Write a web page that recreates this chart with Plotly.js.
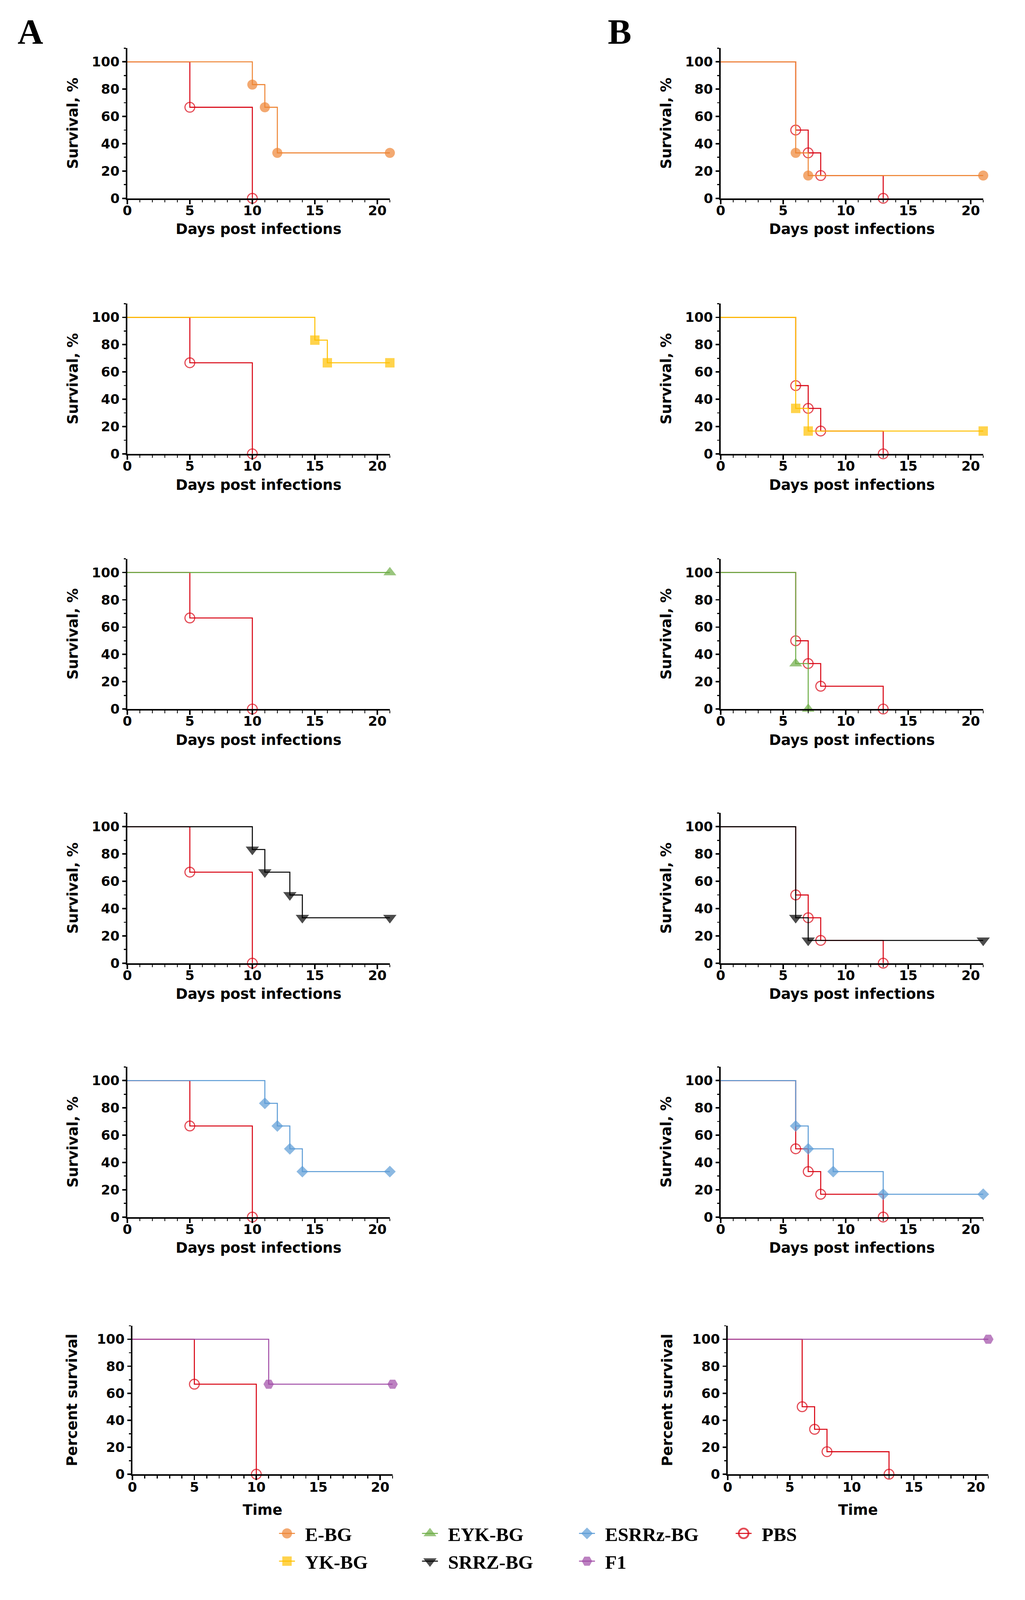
<!DOCTYPE html>
<html>
<head>
<meta charset="utf-8">
<script src="https://cdn.plot.ly/plotly-3.0.1.min.js"></script>
<style>
  html, body { margin: 0; padding: 0; background: #ffffff; overflow: hidden; }
</style>
</head>
<body>
<div id="chart"></div>
<script>
// ---------------- DATA (Kaplan-Meier steps) ----------------
const PBS_A_days = [0, 5, 10];
const PBS_A_surv = [100, 66.7, 0];
const PBS_B_days = [0, 6, 7, 8, 13];
const PBS_B_surv = [100, 50, 33.3, 16.7, 0];

const EBG_A_days = [0, 10, 11, 12, 21];
const EBG_A_surv = [100, 83.3, 66.7, 33.3, 33.3];
const EBG_B_days = [0, 6, 7, 21];
const EBG_B_surv = [100, 33.3, 16.7, 16.7];

const YKBG_A_days = [0, 15, 16, 21];
const YKBG_A_surv = [100, 83.3, 66.7, 66.7];
const YKBG_B_days = [0, 6, 7, 21];
const YKBG_B_surv = [100, 33.3, 16.7, 16.7];

const EYKBG_A_days = [0, 21];
const EYKBG_A_surv = [100, 100];
const EYKBG_B_days = [0, 6, 7];
const EYKBG_B_surv = [100, 33.3, 0];

const SRRZBG_A_days = [0, 10, 11, 13, 14, 21];
const SRRZBG_A_surv = [100, 83.3, 66.7, 50, 33.3, 33.3];
const SRRZBG_B_days = [0, 6, 7, 21];
const SRRZBG_B_surv = [100, 33.3, 16.7, 16.7];

const ESRRZBG_A_days = [0, 11, 12, 13, 14, 21];
const ESRRZBG_A_surv = [100, 83.3, 66.7, 50, 33.3, 33.3];
const ESRRZBG_B_days = [0, 6, 7, 9, 13, 21];
const ESRRZBG_B_surv = [100, 66.7, 50, 33.3, 16.7, 16.7];

const F1_A_days = [0, 11, 21];
const F1_A_surv = [100, 66.7, 66.7];
const F1_B_days = [0, 21];
const F1_B_surv = [100, 100];

const groupNames = ['E-BG', 'YK-BG', 'EYK-BG', 'SRRZ-BG', 'ESRRz-BG', 'F1'];
const controlName = 'PBS';
const xTickVals = [0, 5, 10, 15, 20];
const yTickVals = [0, 20, 40, 60, 80, 100];
const panelLetters = ['A', 'B'];
const yTitleMain = 'Survival, %';
const xTitleMain = 'Days post infections';
const yTitleLast = 'Percent survival';
const xTitleLast = 'Time';

// panels: [row][col]
const panelData = [
  [[EBG_A_days, EBG_A_surv, PBS_A_days, PBS_A_surv], [EBG_B_days, EBG_B_surv, PBS_B_days, PBS_B_surv]],
  [[YKBG_A_days, YKBG_A_surv, PBS_A_days, PBS_A_surv], [YKBG_B_days, YKBG_B_surv, PBS_B_days, PBS_B_surv]],
  [[EYKBG_A_days, EYKBG_A_surv, PBS_A_days, PBS_A_surv], [EYKBG_B_days, EYKBG_B_surv, PBS_B_days, PBS_B_surv]],
  [[SRRZBG_A_days, SRRZBG_A_surv, PBS_A_days, PBS_A_surv], [SRRZBG_B_days, SRRZBG_B_surv, PBS_B_days, PBS_B_surv]],
  [[ESRRZBG_A_days, ESRRZBG_A_surv, PBS_A_days, PBS_A_surv], [ESRRZBG_B_days, ESRRZBG_B_surv, PBS_B_days, PBS_B_surv]],
  [[F1_A_days, F1_A_surv, PBS_A_days, PBS_A_surv], [F1_B_days, F1_B_surv, PBS_B_days, PBS_B_surv]]
];

// ---------------- STYLE ----------------
// reference frame is 2624 x 4784; the page fits it into the real viewport
const REF_W = 2624, REF_H = 4784;
const W = window.innerWidth || REF_W, H = window.innerHeight || REF_H;
const sx = W / REF_W, sy = H / REF_H;
const fs = Math.min(1, Math.sqrt(sx * sy));
const chartEl = document.getElementById('chart');
chartEl.style.width = W + 'px';
chartEl.style.height = H + 'px';

const STY = {
  'E-BG':     {color: '#EE8535', symbol: 'circle',        size: 28, legend: 'legend'},
  'EYK-BG':   {color: '#6DAD46', symbol: 'triangle-up',   size: 31, legend: 'legend2'},
  'ESRRz-BG': {color: '#5B9BD5', symbol: 'diamond',       size: 25, legend: 'legend3'},
  'PBS':      {color: '#D8000F', symbol: 'circle-open',   size: 27, legend: 'legend4'},
  'YK-BG':    {color: '#FFC000', symbol: 'square',        size: 26, legend: 'legend5'},
  'SRRZ-BG':  {color: '#000000', symbol: 'triangle-down', size: 32, legend: 'legend6'},
  'F1':       {color: '#A04BA6', symbol: 'hexagon2',      size: 29, legend: 'legend7'}
};
const colX = [
  [[326, 998], [1845, 2517]],
  [[326, 998], [1845, 2517]],
  [[326, 998], [1845, 2517]],
  [[326, 998], [1845, 2517]],
  [[326, 998], [1845, 2517]],
  [[339, 1005], [1863, 2530]]
];
const rowY0 = [593, 1357, 2120, 2880, 3639, 4408];
const rowH = [449, 449, 449, 449, 449, 444];

const axisFont = {family: 'DejaVu Sans, Arial, sans-serif', size: 37 * fs, color: '#000', weight: 'bold'};
const titleFont = {family: 'DejaVu Sans, Arial, sans-serif', size: 40 * fs, color: '#000', weight: 'bold'};

const legendOwner = {};
panelData.forEach((row, r) => row.forEach((p, c) => {
  const g = groupNames[r];
  if (!legendOwner[g] || p[0].length > legendOwner[g].n) legendOwner[g] = {r, c, n: p[0].length};
}));
legendOwner[controlName] = {r: 0, c: 0};

const traces = [];
const layout = {
  width: W, height: H,
  margin: {l: 0, r: 0, t: 0, b: 0},
  paper_bgcolor: '#fff', plot_bgcolor: 'rgba(0,0,0,0)',
  showlegend: true,
  annotations: [],
  font: {family: 'DejaVu Sans, Arial, sans-serif', color: '#000'}
};

function mk(name, days, surv, axIdx, showLeg) {
  const s = STY[name];
  return {
    type: 'scatter', mode: 'lines+markers', name: name,
    x: days, y: surv,
    xaxis: 'x' + axIdx, yaxis: 'y' + axIdx,
    line: {shape: 'hv', color: s.color, width: 2.8 * fs},
    marker: {
      symbol: s.symbol, color: s.color,
      size: days.map((d, i) => i === 0 ? 0 : s.size * fs),
      line: {color: s.color, width: name === controlName ? 3.2 * fs : 0}
    },
    cliponaxis: false,
    showlegend: showLeg, legend: s.legend,
    hoverinfo: 'x+y+name'
  };
}

let idx = 0;
panelData.forEach((row, r) => row.forEach((p, c) => {
  idx++;
  const g = groupNames[r];
  const [gx, gy, px, py] = p;
  traces.push(mk(controlName, px, py, idx, legendOwner[controlName].r === r && legendOwner[controlName].c === c));
  traces.push(mk(g, gx, gy, idx, legendOwner[g].r === r && legendOwner[g].c === c));

  const [x0, x21] = colX[r][c];
  const y0 = rowY0[r], yTop = y0 - rowH[r];
  const last = r === panelData.length - 1;
  layout['xaxis' + idx] = {
    domain: [x0 / REF_W, x21 / REF_W], anchor: 'y' + idx,
    range: [0, 21], tickvals: xTickVals, ticktext: xTickVals.map(String),
    showline: true, linewidth: 4.5 * fs, linecolor: '#000',
    ticks: 'outside', ticklen: 12 * fs, tickwidth: 4 * fs, tickcolor: '#000',
    minor: {tickvals: Array.from({length: 22}, (_, k) => k), ticks: 'outside', ticklen: 7 * fs, tickwidth: 3 * fs, tickcolor: '#000'},
    showgrid: false, zeroline: false, fixedrange: true,
    tickfont: axisFont, ticklabelstandoff: last ? -11 : -13,
    title: {text: last ? xTitleLast : xTitleMain, font: titleFont, standoff: last ? 27 : 16.5},
    automargin: false
  };
  layout['yaxis' + idx] = {
    domain: [1 - y0 / REF_H, 1 - yTop / REF_H], anchor: 'x' + idx,
    range: [0, 110], tickvals: yTickVals, ticktext: yTickVals.map(String),
    showline: true, linewidth: 4 * fs, linecolor: '#000',
    ticks: 'outside', ticklen: 10 * fs, tickwidth: 4 * fs, tickcolor: '#000',
    minor: {tickvals: [10, 30, 50, 70, 90, 110], ticks: 'outside', ticklen: 6 * fs, tickwidth: 3 * fs, tickcolor: '#000'},
    showgrid: false, zeroline: false, fixedrange: true,
    tickfont: axisFont,
    title: {text: last ? yTitleLast : yTitleMain, font: titleFont, standoff: last ? 40 : 25},
    automargin: false
  };
}));

const letterFont = {family: 'Liberation Serif, Times New Roman, serif', size: 98 * fs, color: '#000', weight: 'bold'};
layout.annotations.push(
  {text: panelLetters[0], xref: 'paper', yref: 'paper', x: 77 / REF_W, y: 1 - 95 / REF_H,
   xanchor: 'center', yanchor: 'middle', showarrow: false, font: letterFont},
  {text: panelLetters[1], xref: 'paper', yref: 'paper', x: 1586 / REF_W, y: 1 - 95 / REF_H,
   xanchor: 'center', yanchor: 'middle', showarrow: false, font: letterFont}
);

// legends: one per entry, 2 rows x 4 columns; positions = where the label text starts
const legFont = {family: 'Liberation Serif, Times New Roman, serif', size: 53 * fs, color: '#000', weight: 'bold'};
const LEG_ITEMW = 60;
const legendTextPos = {
  'legend':  [784, 4585], 'legend2': [1150, 4585], 'legend3': [1552, 4585], 'legend4': [1953, 4585],
  'legend5': [784, 4668], 'legend6': [1150, 4668], 'legend7': [1552, 4668]
};
Object.keys(legendTextPos).forEach(k => {
  const [tx, ty] = legendTextPos[k];
  layout[k] = {
    x: (tx - LEG_ITEMW - 13) / REF_W, y: 1 - ty / REF_H, xanchor: 'left', yanchor: 'middle',
    xref: 'paper', yref: 'paper',
    orientation: 'h', font: legFont, bgcolor: 'rgba(0,0,0,0)', borderwidth: 0,
    itemwidth: LEG_ITEMW, itemclick: false, itemdoubleclick: false
  };
});

// legend symbols: marker as large as on the plot, short line stub, gap like the reference
function setAttr(el, name, val) { if (el.getAttribute(name) !== val) el.setAttribute(name, val); }
function fixLegendSymbols() {
  chartEl.querySelectorAll('text').forEach(t => {
    try {
      const cls = t.getAttribute('class') || '';
      if (!/(^|\s)legend\d*text(\s|$)/.test(cls)) return;
      const s = STY[(t.textContent || '').trim()];
      if (!s) return;
      const item = t.parentNode;
      if (!item) return;
      const tx = parseFloat(t.getAttribute('x'));
      const textX = isFinite(tx) ? tx : (LEG_ITEMW + 10);
      const mx = Math.round((textX - 50 * fs) * 10) / 10;
      const half = Math.round(22 * fs * 10) / 10;
      const k = Math.round((s.size * fs) / 16 * 1000) / 1000;
      item.querySelectorAll('path.scatterpts').forEach(p => setAttr(p, 'transform', `translate(${mx},0) scale(${k})`));
      item.querySelectorAll('path.js-line').forEach(p => setAttr(p, 'd', `M${mx - half},0h${2 * half}`));
    } catch (e) { /* keep going with the other entries */ }
  });
}

const obs = new MutationObserver(fixLegendSymbols);
obs.observe(chartEl, {subtree: true, childList: true, attributes: true, attributeFilter: ['transform', 'd', 'x']});

Plotly.newPlot('chart', traces, layout, {staticPlot: true, displayModeBar: false}).then(gd => {
  fixLegendSymbols();
  [0, 50, 200, 500].forEach(ms => setTimeout(fixLegendSymbols, ms));
});
</script>
</body>
</html>
